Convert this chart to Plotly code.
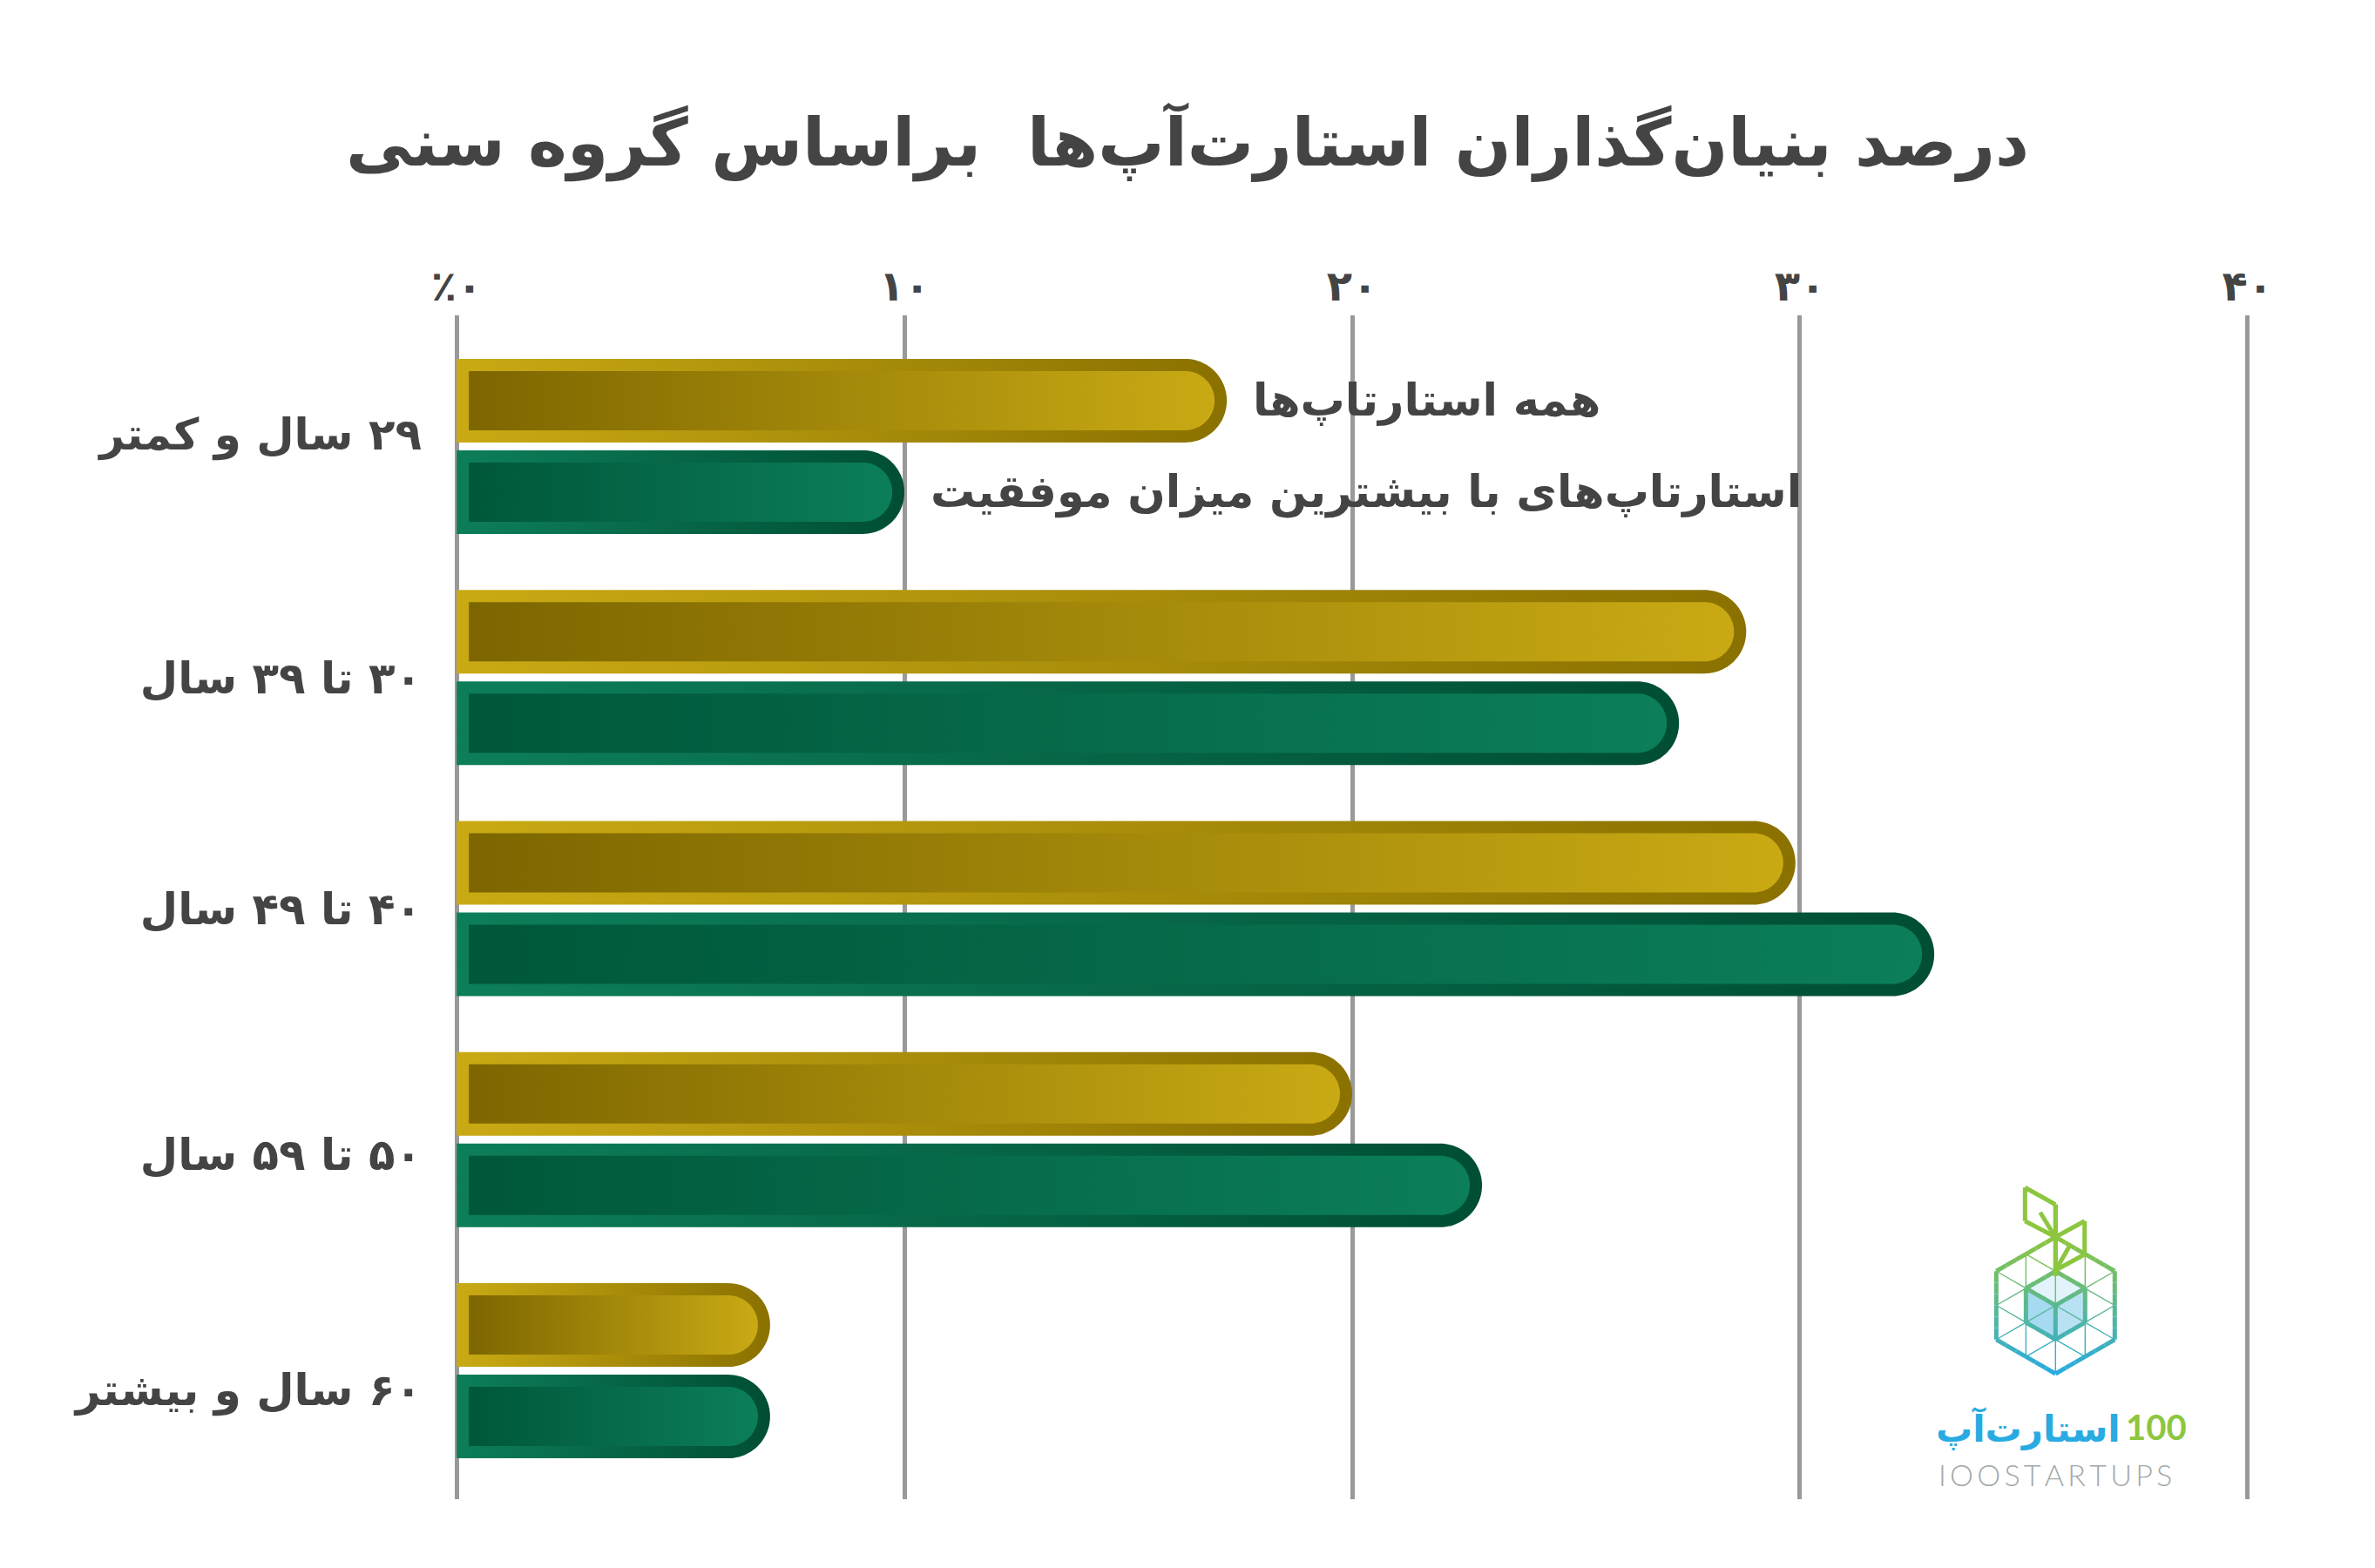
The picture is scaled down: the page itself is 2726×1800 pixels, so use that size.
import math
import plotly.graph_objects as go

# ---------------- data ----------------
age_groups = ["۲۹ سال و کمتر", "۳۰ تا ۳۹ سال", "۴۰ تا ۴۹ سال", "۵۰ تا ۵۹ سال", "۶۰ سال و بیشتر"]
all_startups = [17.2, 28.8, 29.9, 20.0, 7.0]
most_successful = [10.0, 27.3, 33.0, 22.9, 7.0]
series_names = ["همه استارتاپ‌ها", "استارتاپ‌های با بیشترین میزان موفقیت"]
x_tick_values = [0, 10, 20, 30, 40]
x_tick_labels = ["٪۰", "۱۰", "۲۰", "۳۰", "۴۰"]
chart_title = "درصد بنیان‌گذاران استارت‌آپ‌ها  براساس گروه سنی"

# ---------------- layout geometry ----------------
W, H = 2726, 1800
ML, MR, MT, MB = 519, 141, 362, 79
PW, PH = W - ML - MR, H - MT - MB
XR = [-0.1, 40.1]
YR = [4.554, -0.569]
SX = PW / (XR[1] - XR[0])
SY = PH / (YR[0] - YR[1])

BAR_H = 96
OUTLINE = 14
OFFSETS = [-53, 52]
LABEL_SHIFT_PX = [-14, 0, 0, 17, 21]
FONT = "DejaVu Sans"
TXT = "#444444"

STYLES = [
    dict(outer=["#c9aa14", "#8a7100"], inner=["#7d6600", "#c9aa14"]),
    dict(outer=["#0d7e5a", "#004e34"], inner=["#00573a", "#0c7e5a"]),
]


def capsule(value, yc, h, inset):
    R = h / 2.0
    r = R - inset
    xc = value - R / SX
    xl = inset / SX
    xs = [xl]
    ys = [yc - r / SY]
    n = 48
    for k in range(n + 1):
        th = math.pi / 2 - math.pi * k / n
        xs.append(xc + r * math.cos(th) / SX)
        ys.append(yc - r * math.sin(th) / SY)
    xs.append(xl)
    ys.append(yc + r / SY)
    xs.append(xs[0])
    ys.append(ys[0])
    return xs, ys


fig = go.Figure()

for si, vals in enumerate([all_startups, most_successful]):
    st = STYLES[si]
    for gi, v in enumerate(vals):
        yc = gi + OFFSETS[si] / SY
        for part, inset in (("outer", 0), ("inner", OUTLINE)):
            xs, ys = capsule(v, yc, BAR_H, inset)
            c0, c1 = st[part]
            fig.add_trace(go.Scatter(
                x=xs, y=ys, mode="none", fill="toself",
                fillgradient=dict(type="horizontal",
                                  colorscale=[[0, c0], [1, c1]],
                                  start=min(xs), stop=max(xs)),
                hoverinfo="skip", showlegend=False,
                name=series_names[si],
            ))

# legend-like labels next to first group's bars
annotations = []
for si, vals in enumerate([all_startups, most_successful]):
    annotations.append(dict(
        x=vals[0], y=0 + OFFSETS[si] / SY, xref="x", yref="y",
        text=series_names[si], showarrow=False, xanchor="left", yanchor="middle",
        xshift=28, font=dict(family=FONT, size=51, color=TXT, weight="bold"),
    ))

# ---------------- logo (decoration) ----------------
def P(px, py):
    return ((px - ML) / PW, 1 - (py - MT) / PH)

GREEN = (141, 198, 63)
BLUE = (41, 171, 226)
LCX, LCY, LR = 2359.3, 1498.5, 78.5
LA = LR * math.cos(math.pi / 6)


def grad_col(py):
    t = (py - (LCY - LR)) / (2 * LR)
    t = max(0.0, min(1.0, t))
    c = [round(GREEN[i] + (BLUE[i] - GREEN[i]) * t) for i in range(3)]
    return "rgb(%d,%d,%d)" % tuple(c)


shapes = []


def seg(p0, p1, width, pieces=6, color=None):
    for k in range(pieces):
        a = k / pieces
        b = (k + 1) / pieces
        x0 = p0[0] + (p1[0] - p0[0]) * a
        y0 = p0[1] + (p1[1] - p0[1]) * a
        x1 = p0[0] + (p1[0] - p0[0]) * b
        y1 = p0[1] + (p1[1] - p0[1]) * b
        col = color or grad_col((y0 + y1) / 2)
        q0 = P(x0, y0)
        q1 = P(x1, y1)
        shapes.append(dict(type="line", xref="paper", yref="paper",
                           x0=q0[0], y0=q0[1], x1=q1[0], y1=q1[1],
                           line=dict(color=col, width=width), layer="above"))


def hexv(radius, ang_deg):
    t = math.radians(ang_deg)
    return (LCX + radius * math.cos(t), LCY - radius * math.sin(t))


def poly_path(pts):
    s = ""
    for i, (x, y) in enumerate(pts):
        q = P(x, y)
        s += ("M" if i == 0 else "L") + "%.5f,%.5f" % q
    return s + "Z"


# cube faces
cr = LR / 2
cen = (LCX, LCY)
faces = [
    ([cen, hexv(cr, 150), hexv(cr, 90), hexv(cr, 30)], "#e2f3fb"),
    ([cen, hexv(cr, 150), hexv(cr, 210), hexv(cr, 270)], "#a6daf1"),
    ([cen, hexv(cr, 270), hexv(cr, 330), hexv(cr, 30)], "#b8e2f4"),
]
for pts, col in faces:
    shapes.append(dict(type="path", xref="paper", yref="paper", path=poly_path(pts),
                       fillcolor=col, line=dict(width=0), layer="above"))

# thin triangular grid inside the hexagon
for phi in (0, 60, 120):
    fr = math.radians(phi)
    for d in (-LA / 2, 0, LA / 2):
        L = LR - abs(d) / math.sqrt(3)
        pts = []
        for v in (-L, L):
            X = d * math.cos(fr) - v * math.sin(fr)
            Y = d * math.sin(fr) + v * math.cos(fr)
            pts.append((LCX + X, LCY - Y))
        seg(pts[0], pts[1], 1.4, pieces=4)

# outer hexagon
ov = [hexv(LR, 90 - 60 * k) for k in range(6)]
for k in range(6):
    seg(ov[k], ov[(k + 1) % 6], 5)

# cube outline and inner Y
cv = [hexv(cr, 90 - 60 * k) for k in range(6)]
for k in range(6):
    seg(cv[k], cv[(k + 1) % 6], 5, pieces=3)
for ang in (150, 30, 270):
    seg(cen, hexv(cr, ang), 5, pieces=3)

# leaves and stem
LG = "rgb(141,198,63)"
leaf_l = [(2324.3, 1363.3), (2359.3, 1382.7), (2359.3, 1420.0), (2324.3, 1401.7)]
leaf_r = [(2359.3, 1420.0), (2392.7, 1401.7), (2392.7, 1440.0), (2359.3, 1458.3)]
for leaf in (leaf_l, leaf_r):
    for k in range(4):
        seg(leaf[k], leaf[(k + 1) % 4], 5, pieces=1, color=LG)
seg((2359.3, 1382.7), (2359.3, 1465.0), 5, pieces=1, color=LG)
seg((2341.7, 1391.7), (2357.3, 1417.3), 5, pieces=1, color=LG)
seg((2376.0, 1429.3), (2360.7, 1456.0), 5, pieces=1, color=LG)

lx, ly = P(2436, 1640)
annotations.append(dict(x=lx, y=ly, xref="paper", yref="paper", text="استارت‌آپ",
                        showarrow=False, xanchor="right", yanchor="middle",
                        font=dict(family=FONT, size=42, color="#29abe2", weight="bold")))
lx, ly = P(2438, 1638)
annotations.append(dict(x=lx, y=ly, xref="paper", yref="paper", text="100",
                        showarrow=False, xanchor="left", yanchor="middle",
                        font=dict(family="Lato", size=40, color="#8dc63f", weight="bold")))
lx, ly = P(2359, 1692)
annotations.append(dict(x=lx, y=ly, xref="paper", yref="paper",
                        text="I\u2009O\u2009O\u2009S\u2009T\u2009A\u2009R\u2009T\u2009U\u2009P\u2009S",
                        showarrow=False, xanchor="center", yanchor="middle",
                        font=dict(family="Lato", size=34, color="#a3a8a8", weight=300)))

fig.update_layout(
    width=W, height=H,
    margin=dict(l=ML, r=MR, t=MT, b=MB, pad=0),
    paper_bgcolor="white", plot_bgcolor="white",
    title=dict(text=chart_title, x=0.5, xref="container", xanchor="center",
               y=1 - 163 / H, yref="container", yanchor="middle",
               font=dict(family=FONT, size=76, color=TXT, weight="bold")),
    xaxis=dict(range=XR, side="top", tickvals=x_tick_values, ticktext=x_tick_labels,
               showgrid=True, gridcolor="#999999", gridwidth=5, zeroline=False,
               showline=False, ticks="", ticklabelstandoff=6,
               tickfont=dict(family=FONT, size=48, color=TXT, weight="bold"),
               fixedrange=True),
    yaxis=dict(range=YR,
               tickvals=[i + LABEL_SHIFT_PX[i] / SY for i in range(len(age_groups))],
               ticktext=["\u200f" + g for g in age_groups],
               showgrid=False, zeroline=False, showline=False, ticks="",
               ticklabelstandoff=34,
               tickfont=dict(family=FONT, size=50, color=TXT, weight="bold"),
               fixedrange=True),
    annotations=annotations,
    shapes=shapes,
    showlegend=False,
)

fig.write_html("out.html")
